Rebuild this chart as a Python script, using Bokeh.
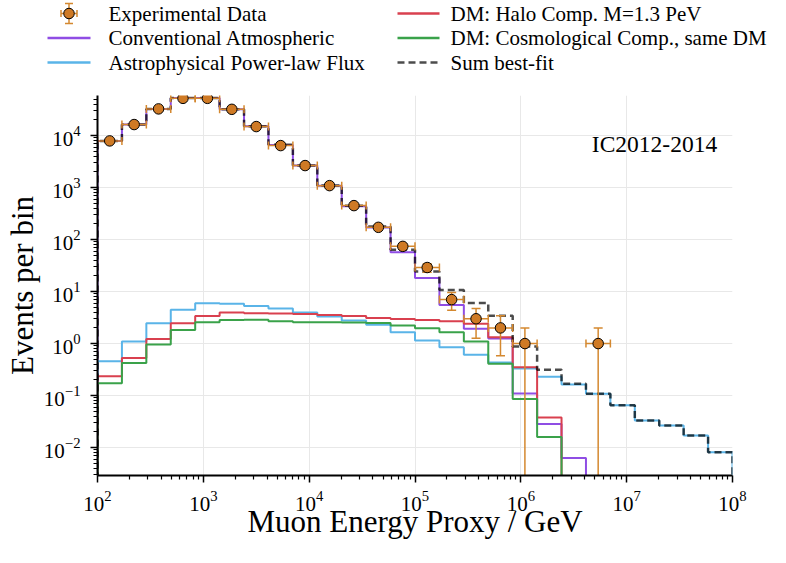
import numpy as np
from bokeh.plotting import figure
from bokeh.layouts import column
from bokeh.models import Label, FixedTicker, Range1d
from bokeh.core.properties import value
from bokeh.embed import file_html
from bokeh.resources import INLINE

# ---------------- data ----------------
log_edges = np.linspace(2, 8, 27)          # 26 log-spaced bins, 1e2 .. 1e8 GeV
edges = 10.0 ** log_edges

counts = [7900, 16300, 32600, 52000, 52000, 32000, 14900, 6420, 2650, 1090,
          450, 172, 74, 29, 7, 3, 2, 1, 0, 0, 1, 0, 0, 0, 0, 0]

atm = [7900, 16300, 32600, 53000, 53000, 32000, 15100, 6620, 2650, 1090,
       437, 170, 57, 18.3, 5.5, 1.92, 1.25, 0.11, 0.0285, 0.0063,
       0, 0, 0, 0, 0, 0]

astro = [0.455, 1.1, 2.46, 4.45, 5.96, 5.8, 5.3, 4.7, 3.95, 3.3,
         2.77, 2.3, 1.65, 1.14, 0.85, 0.61, 0.43, 0.33, 0.23, 0.163,
         0.108, 0.065, 0.033, 0.0265, 0.017, 0.0081]

halo = [0.235, 0.53, 1.23, 2.46, 3.4, 3.95, 3.83, 3.8, 3.72, 3.55,
        3.4, 3.1, 2.98, 2.85, 2.69, 2.4, 1.32, 0.35, 0.038, 0,
        0, 0, 0, 0, 0, 0]

cosmo = [0.173, 0.425, 0.96, 1.83, 2.57, 2.85, 2.88, 2.69, 2.57, 2.57,
         2.55, 2.48, 2.22, 1.97, 1.65, 1.1, 0.41, 0.086, 0.016, 0,
         0, 0, 0, 0, 0, 0]

total = list(np.array(atm) + np.array(astro) + np.array(halo) + np.array(cosmo))

labels = ["Experimental Data", "Conventional Atmospheric", "Astrophysical Power-law Flux",
          "DM: Halo Comp. M=1.3 PeV", "DM: Cosmological Comp., same DM", "Sum best-fit"]

# ---------------- style ----------------
FONT = "Liberation Serif"
C_ATM = "#8f4de4"
C_AST = "#5ab4e8"
C_HALO = "#d9404f"
C_COS = "#3aa24a"
C_DATA = "#cf7a25"
C_ERR = "#d4882f"
SUM_KW = dict(line_color="black", line_alpha=0.7, line_width=2.5, line_dash="7 4")
FLOOR = 1e-6

W = 770
LEG_H = 82
MAIN_H = 547 - LEG_H
FRAME_TOP = 95

# ---------------- main plot ----------------
p = figure(width=W, height=MAIN_H, x_axis_type="log", y_axis_type="log",
           x_range=(100, 1e8), y_range=(2.9e-3, 5.9e4),
           output_backend="svg", toolbar_location=None,
           min_border_left=97, min_border_right=38,
           min_border_top=FRAME_TOP - LEG_H, min_border_bottom=72)
p.outline_line_color = None
p.frame_align = False


def step_xy(vals):
    v = np.array(vals, dtype=float)
    v = np.where(v > 0, v, FLOOR)
    xs = np.repeat(edges, 2)
    ys = np.concatenate([[FLOOR], np.repeat(v, 2), [FLOOR]])
    return xs, ys


p.line(*step_xy(atm), line_color=C_ATM, line_width=2)
p.line(*step_xy(astro), line_color=C_AST, line_width=2)
p.line(*step_xy(halo), line_color=C_HALO, line_width=2)
p.line(*step_xy(cosmo), line_color=C_COS, line_width=2)
p.line(*step_xy(total), **SUM_KW)

# experimental data with error bars
c = np.array(counts, dtype=float)
m = c > 0
lo_e = edges[:-1][m]
hi_e = edges[1:][m]
xc = np.sqrt(lo_e * hi_e)
yv = c[m]
err = np.sqrt(yv)
ylo = yv - err
yhi = yv + err
ylo_draw = np.where(ylo > 0, ylo, FLOOR)

p.segment(lo_e, yv, hi_e, yv, line_color=C_ERR, line_width=1.5)
p.segment(xc, ylo_draw, xc, yhi, line_color=C_ERR, line_width=1.5)
p.scatter(np.concatenate([lo_e, hi_e]), np.concatenate([yv, yv]), marker="dash",
          angle=np.pi / 2, size=8, line_color=C_ERR, line_width=1.5)
cap_m = ylo > 0
p.scatter(np.concatenate([xc, xc[cap_m]]), np.concatenate([yhi, ylo[cap_m]]), marker="dash",
          size=9, line_color=C_ERR, line_width=1.5)
p.scatter(xc, yv, marker="circle", size=10.5, fill_color=C_DATA, line_color="black", line_width=1)

xmaj = [10.0 ** k for k in range(2, 9)]
xmin = [j * 10.0 ** k for k in range(2, 8) for j in range(2, 10)]
ymaj = [10.0 ** k for k in range(-2, 5)]
ymin = [j * 10.0 ** k for k in range(-3, 5) for j in range(2, 10)]
p.xaxis.ticker = FixedTicker(ticks=xmaj, minor_ticks=xmin)
p.yaxis.ticker = FixedTicker(ticks=ymaj, minor_ticks=ymin)

for ax in (p.xaxis, p.yaxis):
    ax.axis_line_width = 2
    ax.axis_line_color = "black"
    ax.major_tick_line_width = 1.5
    ax.minor_tick_line_width = 1.2
    ax.major_tick_out = 7
    ax.minor_tick_out = 4
    ax.major_tick_in = 0
    ax.minor_tick_in = 0
    ax.major_label_text_font = FONT
    ax.major_label_text_font_size = "21px"
    ax.major_label_text_color = "black"
    ax.axis_label_text_font = FONT
    ax.axis_label_text_font_style = "normal"
    ax.axis_label_text_font_size = "31px"
    ax.axis_label_text_color = "black"

p.xaxis.axis_label = "Muon Energy Proxy / GeV"
p.yaxis.axis_label = "Events per bin"
p.xaxis.major_label_standoff = 8
p.xaxis.axis_label_standoff = -10
p.yaxis.major_label_standoff = 10
p.yaxis.axis_label_standoff = 1

p.xgrid.grid_line_color = "#e8e8e8"
p.ygrid.grid_line_color = "#e8e8e8"

p.add_layout(Label(x=4.69e6, y=7000, text="IC2012-2014", text_font=FONT,
                   text_font_size="23.5px", text_baseline="middle", text_align="left",
                   text_color="black"))

# ---------------- legend panel (own figure, pixel coordinates) ----------------
lg = figure(width=W, height=LEG_H, x_range=Range1d(0, W), y_range=Range1d(LEG_H, 0),
            output_backend="svg", toolbar_location=None,
            x_axis_location=None, y_axis_location=None,
            min_border_left=0, min_border_right=0, min_border_top=0, min_border_bottom=0)
lg.outline_line_color = None
lg.xgrid.visible = False
lg.ygrid.visible = False
lg.frame_align = False

rows = [13, 37.5, 62]
c1x0, c1x1, c1t = 47, 90, 108
c2x0, c2x1, c2t = 397, 439, 450
mx = (c1x0 + c1x1) / 2

# experimental-data symbol
lg.segment([mx, mx - 8], [rows[0] - 10, rows[0]], [mx, mx + 8], [rows[0] + 10, rows[0]],
           line_color=C_ERR, line_width=1.5)
lg.scatter([mx, mx], [rows[0] - 10, rows[0] + 10], marker="dash", size=8,
           line_color=C_ERR, line_width=1.5)
lg.scatter([mx - 8, mx + 8], [rows[0], rows[0]], marker="dash", angle=np.pi / 2, size=7,
           line_color=C_ERR, line_width=1.5)
lg.scatter([mx], [rows[0]], marker="circle", size=10.5, fill_color=C_DATA,
           line_color="black", line_width=1)

lg.line([c1x0, c1x1], [rows[1]] * 2, line_color=C_ATM, line_width=2.5)
lg.line([c1x0, c1x1], [rows[2]] * 2, line_color=C_AST, line_width=2.5)
lg.line([c2x0, c2x1], [rows[0]] * 2, line_color=C_HALO, line_width=2.5)
lg.line([c2x0, c2x1], [rows[1]] * 2, line_color=C_COS, line_width=2.5)
lg.line([c2x0, c2x1 + 2], [rows[2]] * 2, **SUM_KW)

lg.text(x=[c1t] * 3 + [c2t] * 3, y=rows + rows, text=labels,
        text_font=value(FONT), text_font_size="21px", text_baseline="middle",
        text_align="left", text_color="black")

layout = column(lg, p, spacing=0)
open("out.html", "w").write(file_html(layout, INLINE))
